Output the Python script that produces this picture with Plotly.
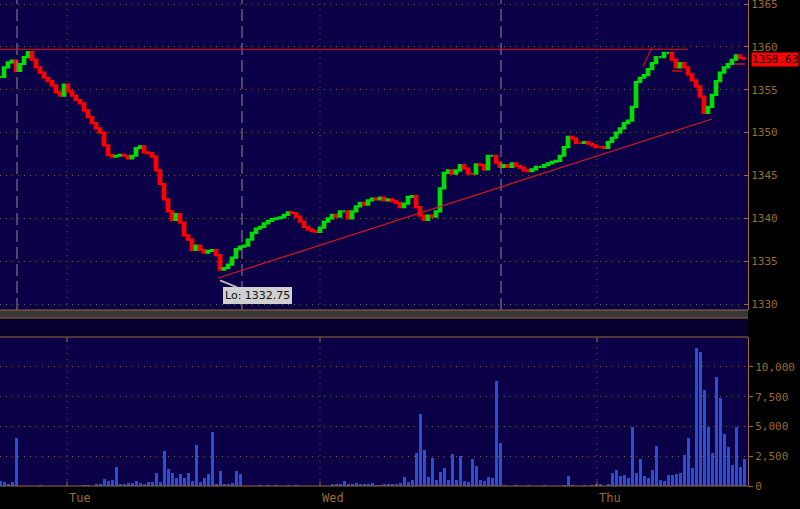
import plotly.graph_objects as go

# ---------------- data ----------------
closes = [
    1356.5, 1357.6, 1358.2, 1358.4, 1357.2, 1358.0, 1358.8, 1359.4, 1358.5, 1357.6,
    1357.0, 1356.4, 1356.0, 1355.5, 1354.7, 1354.3, 1355.6, 1354.8, 1354.3, 1353.8,
    1353.4, 1352.6, 1351.8, 1351.1, 1350.5, 1350.0, 1348.5, 1347.4, 1347.2, 1347.3,
    1347.4, 1347.3, 1347.0, 1347.3, 1348.2, 1348.4, 1347.7, 1347.6, 1347.2, 1345.6,
    1344.0, 1342.2, 1340.8, 1339.8, 1340.5, 1339.5, 1338.0, 1337.5, 1336.3, 1336.8,
    1336.3, 1336.0, 1336.2, 1336.3, 1335.7, 1334.0, 1334.2, 1334.6, 1335.4, 1336.4,
    1336.7, 1336.8, 1337.5, 1338.3, 1338.8, 1339.0, 1339.4, 1339.7, 1339.9, 1340.0,
    1340.1, 1340.4, 1340.7, 1340.6, 1340.2, 1339.6, 1339.0, 1338.7, 1338.5, 1338.4,
    1338.9, 1339.6, 1340.0, 1340.4, 1340.2, 1340.8, 1340.8, 1340.0, 1340.8, 1341.4,
    1341.8, 1341.6, 1342.1, 1342.3, 1342.2, 1342.4, 1342.1, 1342.2, 1342.0, 1341.8,
    1341.3, 1341.7, 1342.5, 1342.6, 1341.3, 1340.3, 1339.8, 1340.3, 1340.2, 1340.8,
    1343.5, 1345.3, 1345.6, 1345.2, 1345.6, 1346.2, 1345.8, 1345.2, 1345.2, 1346.3,
    1346.2, 1345.7, 1347.3, 1347.3, 1346.5, 1346.0, 1346.2, 1346.0, 1346.4, 1346.1,
    1345.9, 1345.6, 1345.5, 1345.7, 1346.0, 1346.0, 1346.2, 1346.4, 1346.6, 1346.7,
    1347.3, 1348.3, 1349.5, 1349.3, 1348.8, 1348.8, 1348.9, 1348.7, 1348.5, 1348.3,
    1348.3, 1348.2, 1348.9, 1349.4, 1350.0, 1350.5, 1351.1, 1351.4, 1353.0, 1355.9,
    1356.4, 1356.7, 1357.4, 1358.1, 1358.8, 1358.8, 1359.3, 1359.3, 1358.5, 1357.6,
    1358.1, 1357.6, 1356.8, 1356.1, 1355.4, 1354.2, 1352.3, 1353.0, 1354.4, 1356.0,
    1357.0, 1357.6, 1358.0, 1358.5, 1359.0, 1358.7, 1358.63,
]

volume = [
    400, 300, 150, 350, 4000, 0, 0, 0, 0, 0,
    60, 0, 0, 0, 0, 0, 0, 0, 0, 0,
    0, 60, 80, 0, 150, 200, 550, 450, 500, 1620,
    200, 150, 250, 250, 400, 250, 200, 300, 350, 1060,
    300, 2940, 1400, 1060, 700, 1000, 700, 1060, 400, 3440,
    300, 700, 1000, 4540, 200, 1260, 200, 200, 250, 1260,
    1000, 0, 0, 0, 0, 80, 0, 80, 0, 60,
    0, 0, 60, 0, 50, 0, 0, 0, 0, 0,
    0, 0, 0, 150, 100, 150, 420, 200, 150, 250,
    150, 200, 100, 250, 80, 60, 100, 150, 200, 200,
    250, 780, 300, 500, 2740, 6050, 3020, 780, 2320, 500,
    1200, 1500, 500, 2690, 500, 2490, 400, 300, 2300, 1700,
    500, 450, 750, 700, 8800, 3580, 50, 0, 0, 60,
    0, 0, 60, 0, 0, 0, 50, 0, 0, 0,
    0, 60, 840, 60, 0, 0, 50, 0, 50, 100,
    200, 0, 100, 1060, 1340, 800, 900, 700, 4930, 1060,
    2300, 800, 700, 1340, 3360, 500, 400, 900, 900, 1000,
    1060, 2600, 4000, 1500, 11570, 11300, 8070, 5000, 2800, 9200,
    7360, 4400, 3250, 1760, 5000, 1620, 2300,
]

day_labels = ["Tue", "Wed", "Thu"]
day_pos = [16.75, 80.0, 149.25]           # bar index of midnight
session_breaks = [4.25, 60.5, 125.25]     # bar index of session starts
price_ticks = [1330, 1335, 1340, 1345, 1350, 1355, 1360, 1365]
vol_ticks = [0, 2500, 5000, 7500, 10000]
vol_tick_text = ["0", "2,500", "5,000", "7,500", "10,000"]
resistance_level = 1359.72
trend_start = (54.5, 1333.03)
trend_end = (178.0, 1351.58)
low_idx, low_val = 55, 1332.75
last_price = 1358.63

# ---------------- derived ----------------
idx = list(range(len(closes)))
opens = [closes[0]] + closes[:-1]
highs = [max(o, c) for o, c in zip(opens, closes)]
lows = [min(o, c) for o, c in zip(opens, closes)]

BG = "#0b0048"
BROWN = "#9a6a2e"
GRID = "#7a5822"
FONT = "DejaVu Sans Mono"
GREEN = "#00dd00"
RED = "#ff0000"

fig = go.Figure()
fig.add_trace(go.Candlestick(
    x=idx, open=opens, high=highs, low=lows, close=closes,
    increasing=dict(line=dict(color=GREEN, width=2.2), fillcolor=GREEN),
    decreasing=dict(line=dict(color=RED, width=2.2), fillcolor=RED),
    whiskerwidth=0, xaxis="x", yaxis="y", showlegend=False, hoverinfo="skip",
))
fig.add_trace(go.Bar(
    x=idx, y=volume, marker=dict(color="#2a4fd0", line=dict(width=0)),
    width=0.75, xaxis="x2", yaxis="y2", showlegend=False, hoverinfo="skip",
))

X_RANGE = [0, 187]
P_TOP_PIX, P_BOT_PIX, V_TOP_PIX, PLOT_H = 0, 310, 337, 486
def pap(p):
    return (PLOT_H - p) / PLOT_H

shapes = []
for s in session_breaks:
    shapes.append(dict(type="line", xref="x", yref="y domain", x0=s, x1=s, y0=0, y1=1,
                       line=dict(color="#8a8a9a", width=1, dash="12px,5px")))
for d in day_pos:
    for yr in ["y domain", "y2 domain"]:
        shapes.append(dict(type="line", xref="x", yref=yr, x0=d, x1=d, y0=0, y1=1,
                           line=dict(color=GRID, width=1, dash="1px,5px")))
    shapes.append(dict(type="line", xref="x", yref="paper", x0=d, x1=d,
                       y0=pap(V_TOP_PIX), y1=pap(V_TOP_PIX + 5), line=dict(color=BROWN, width=1)))
    shapes.append(dict(type="line", xref="x", yref="paper", x0=d, x1=d,
                       y0=0, y1=pap(PLOT_H - 5), line=dict(color=BROWN, width=1)))
shapes.append(dict(type="rect", xref="paper", yref="paper", x0=0, x1=1,
                   y0=pap(318), y1=pap(310), fillcolor="#383838", line=dict(width=0), layer="below"))
shapes.append(dict(type="rect", xref="paper", yref="paper", x0=0, x1=1,
                   y0=pap(337), y1=pap(318), fillcolor="#07002e", line=dict(width=0), layer="below"))
for p in [310, 318, 337, 486]:
    shapes.append(dict(type="line", xref="paper", yref="paper", x0=0, x1=1, y0=pap(p), y1=pap(p),
                       line=dict(color=BROWN, width=1)))
shapes.append(dict(type="line", xref="x", yref="y", x0=0, x1=172, y0=resistance_level, y1=resistance_level,
                   line=dict(color="#e01818", width=1)))
shapes.append(dict(type="line", xref="x", yref="y", x0=trend_start[0], x1=trend_end[0],
                   y0=trend_start[1], y1=trend_end[1], line=dict(color="#d81818", width=1.2)))
shapes.append(dict(type="line", xref="x", yref="y", x0=160.75, x1=163, y0=1357.65, y1=1359.98,
                   line=dict(color="#c01010", width=1.2)))
shapes.append(dict(type="line", xref="x", yref="y", x0=168, x1=170.5, y0=1357.2, y1=1357.2,
                   line=dict(color="#a01010", width=2)))
shapes.append(dict(type="line", xref="x", yref="y", x0=183.75, x1=186.25, y0=1358.0, y1=1358.0,
                   line=dict(color="#a01010", width=2)))

annotations = []
for lab, d in zip(day_labels, day_pos):
    annotations.append(dict(text=lab, x=d, xref="x", y=pap(498), yref="paper", xanchor="left",
                            yanchor="middle", showarrow=False, font=dict(family=FONT, size=12, color=BROWN)))
annotations.append(dict(text="Lo: 1332.75", x=low_idx, y=low_val, xref="x", yref="y",
                        ax=37, ay=15, showarrow=True, arrowhead=0, arrowwidth=2, arrowcolor="#b8b8b8",
                        bgcolor="#d0d0d0", bordercolor="#d0d0d0", borderpad=1,
                        font=dict(family="DejaVu Sans", size=11, color="#111111")))
annotations.append(dict(text="1358.63", x=1.004, xref="paper", y=last_price, yref="y",
                        xanchor="left", yanchor="middle", yshift=-1, showarrow=False, bgcolor="#ff0000",
                        borderpad=0, font=dict(family=FONT, size=11, color="#000000")))

fig.update_layout(
    width=800, height=509,
    margin=dict(l=0, r=52, t=0, b=23, autoexpand=False),
    paper_bgcolor="#000000", plot_bgcolor=BG,
    showlegend=False, boxgap=0.1, bargap=0,
    xaxis=dict(domain=[0, 1], range=X_RANGE, showticklabels=False, showgrid=False, zeroline=False,
               rangeslider=dict(visible=False), anchor="y", fixedrange=True),
    xaxis2=dict(domain=[0, 1], range=X_RANGE, matches="x", showticklabels=False, showgrid=False,
                zeroline=False, anchor="y2"),
    yaxis=dict(domain=[pap(P_BOT_PIX), 1], range=[1329.3, 1365.47], side="right",
               tickvals=price_ticks, ticks="inside", ticklen=4, tickcolor=BROWN,
               showline=True, linecolor=BROWN, linewidth=1, ticklabeloverflow="allow",
               tickfont=dict(family=FONT, size=11, color=BROWN),
               showgrid=True, gridcolor=GRID, griddash="1px,5px", gridwidth=1, zeroline=False,
               automargin=False),
    yaxis2=dict(domain=[0, pap(V_TOP_PIX)], range=[0, 12520], side="right",
                tickvals=vol_ticks, ticktext=vol_tick_text, ticks="outside", ticklen=4, tickcolor=BROWN,
                showline=True, linecolor=BROWN, linewidth=1, ticklabeloverflow="allow",
                tickfont=dict(family=FONT, size=11, color=BROWN),
                showgrid=True, gridcolor=GRID, griddash="1px,5px", gridwidth=1, zeroline=False,
                automargin=False),
    shapes=shapes, annotations=annotations,
)

fig.write_html("out.html", config={"displayModeBar": False},
               post_script="document.body.style.margin='0';document.body.style.background='#000';")
